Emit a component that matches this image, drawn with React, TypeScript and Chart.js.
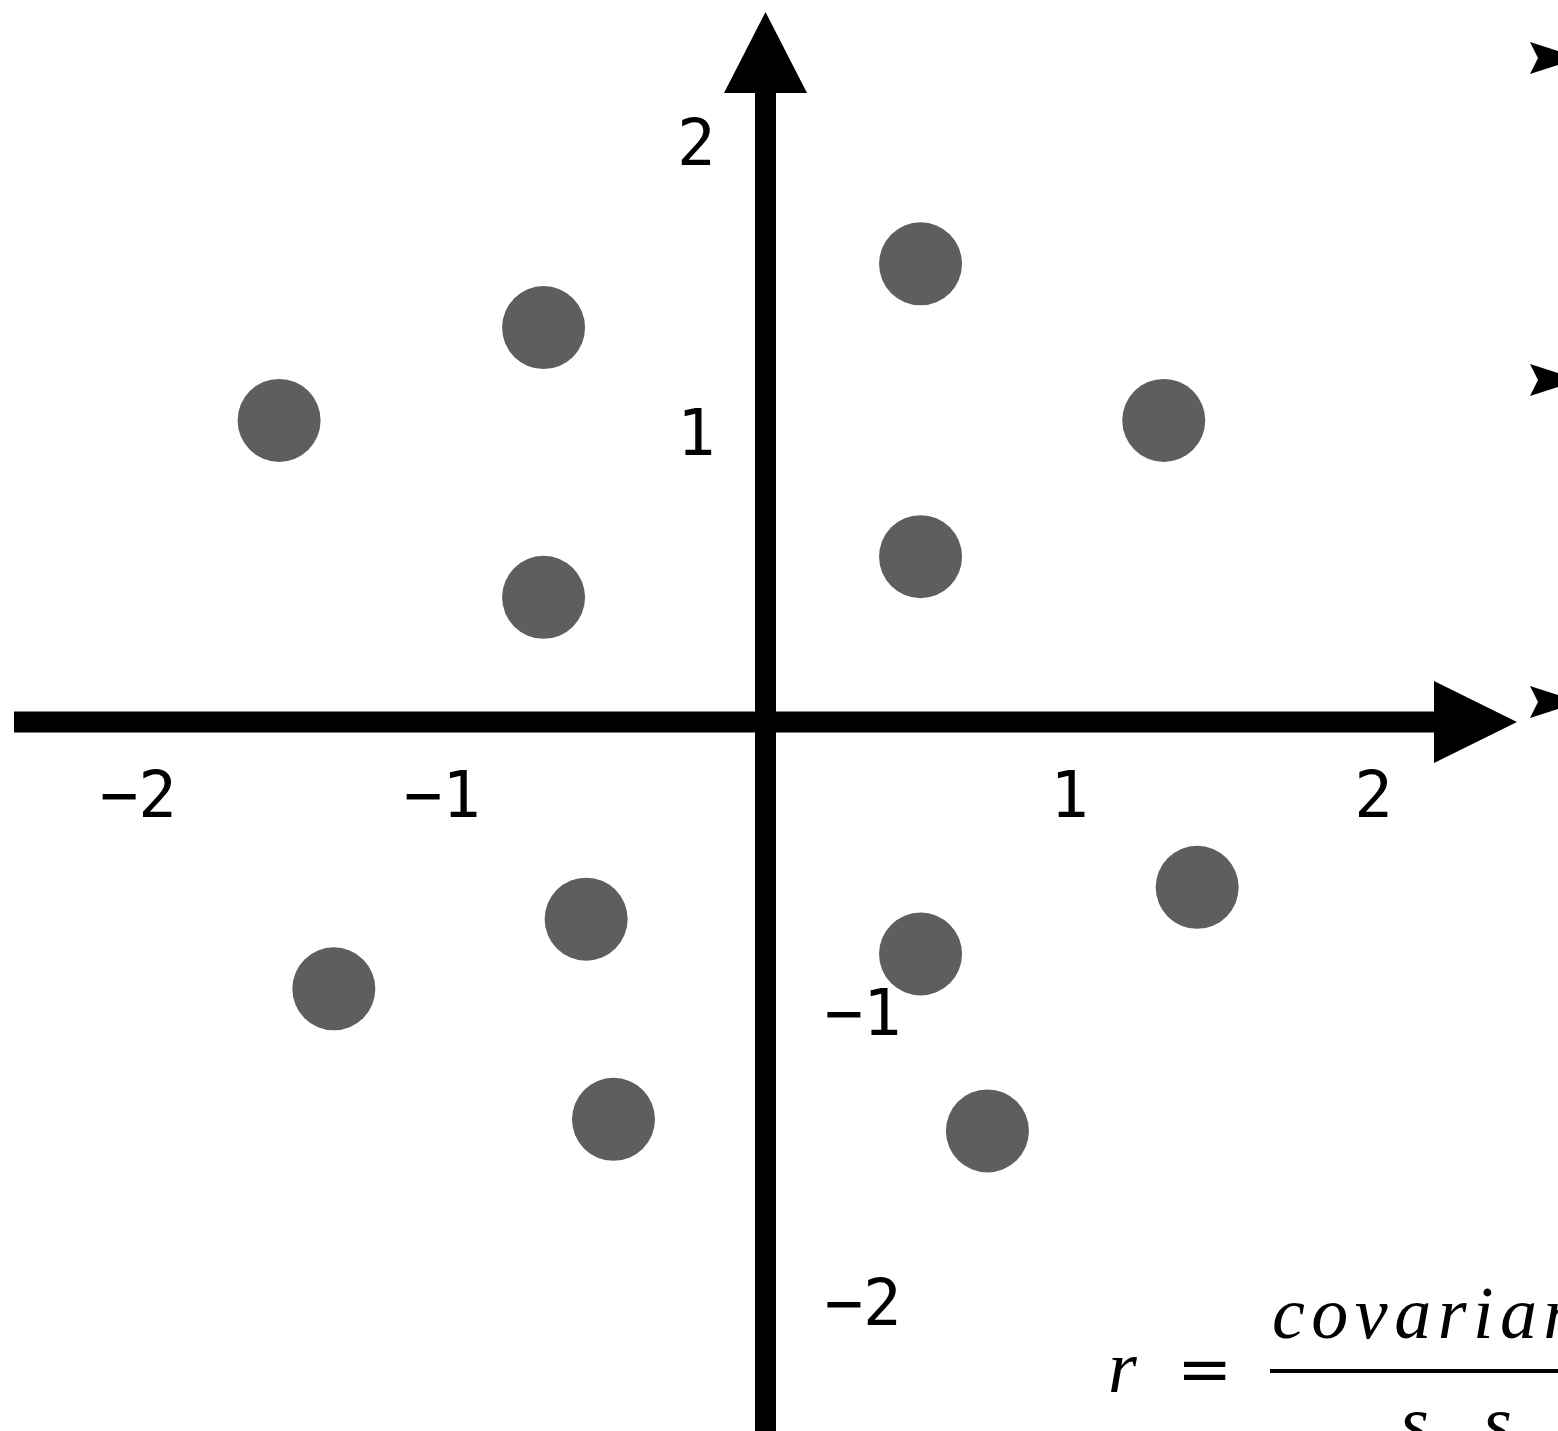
import { useEffect, useRef } from "react";
import { Chart, registerables } from "chart.js";

Chart.register(...registerables);

// Data
const xValues = [-1.6, -0.73, -0.73, 0.51, 1.31, 0.51, 1.42, 0.51, -0.59, -1.42, -0.5, 0.73];
const yValues = [1.04, 1.36, 0.43, 1.58, 1.04, 0.57, -0.57, -0.8, -0.68, -0.92, -1.37, -1.41];

const xTickValues = [-2, -1, 1, 2];
const xTickLabels = ["−2", "−1", "1", "2"];
const yTickValues = [2, 1, -1, -2];
const yTickLabels = ["2", "1", "−1", "−2"];

const W = 1558;
const H = 1431;

const MONO = '64px "DejaVu Sans Mono"';
const SERIF_I = 'italic 74px "Liberation Serif"';
const EQ_FONT = '66px "DejaVu Serif"';
const SUB_I = 'italic 48px "Liberation Serif"';

function setFont(ctx: any, f: string) {
  ctx.font = f;
  // read back so the font is resolved before drawing
  return ctx.font;
}

const axesPlugin = {
  id: "axesPlugin",
  beforeDatasetsDraw(chart: any) {
    const ctx = chart.ctx;
    const chartArea = chart.chartArea;
    const xs = chart.scales.x;
    const ys = chart.scales.y;
    const x0 = xs.getPixelForValue(0);
    const y0 = ys.getPixelForValue(0);
    ctx.save();
    ctx.fillStyle = "#000";
    // horizontal axis
    const hx1 = chartArea.left + 14;
    const hxBase = 1434;
    const hxTip = 1517;
    ctx.fillRect(hx1, y0 - 10.5, hxBase - hx1 + 1, 21);
    ctx.beginPath();
    ctx.moveTo(hxBase, y0 - 41);
    ctx.lineTo(hxTip, y0);
    ctx.lineTo(hxBase, y0 + 41);
    ctx.closePath();
    ctx.fill();
    // vertical axis
    const vyBase = 93;
    const vyTip = 12;
    ctx.fillRect(x0 - 10.5, vyBase - 1, 21, chartArea.bottom - vyBase + 2);
    ctx.beginPath();
    ctx.moveTo(x0 - 41.5, vyBase);
    ctx.lineTo(x0, vyTip);
    ctx.lineTo(x0 + 41.5, vyBase);
    ctx.closePath();
    ctx.fill();

    // tick labels
    setFont(ctx, MONO);
    ctx.textBaseline = "alphabetic";
    const cw = ctx.measureText("0").width;
    xTickValues.forEach((v, i) => {
      const px = xs.getPixelForValue(v);
      ctx.textAlign = "right";
      ctx.fillText(xTickLabels[i], px + cw / 2, y0 + 95);
    });
    yTickValues.forEach((v, i) => {
      const py = ys.getPixelForValue(v);
      if (v > 0) {
        ctx.textAlign = "right";
        ctx.fillText(yTickLabels[i], x0 - 50, py + 23);
      } else {
        ctx.textAlign = "left";
        ctx.fillText(yTickLabels[i], x0 + 59, py + 23);
      }
    });
    ctx.restore();
  },
  afterDraw(chart: any) {
    const ctx = chart.ctx;
    ctx.save();
    ctx.fillStyle = "#000";
    // cropped bullet arrows at right edge
    [58, 380, 702].forEach((cy) => {
      ctx.beginPath();
      ctx.moveTo(1530, cy - 16);
      ctx.lineTo(1580, cy);
      ctx.lineTo(1530, cy + 16);
      ctx.lineTo(1538, cy);
      ctx.closePath();
      ctx.fill();
    });
    // formula
    ctx.textBaseline = "alphabetic";
    ctx.textAlign = "left";
    setFont(ctx, SERIF_I);
    ctx.fillText("r", 1108, 1392);
    setFont(ctx, EQ_FONT);
    ctx.fillText("=", 1177, 1391);
    setFont(ctx, SERIF_I);
    let cx = 1272;
    for (const ch of "covariance") {
      ctx.fillText(ch, cx, 1338);
      cx += ctx.measureText(ch).width + 6.5;
    }
    ctx.fillRect(1270, 1369, 300, 4);
    ctx.fillText("s", 1400, 1447);
    ctx.fillText("s", 1483, 1447);
    setFont(ctx, SUB_I);
    ctx.fillText("x", 1430, 1462);
    ctx.fillText("y", 1513, 1462);
    ctx.restore();
  },
};

export default function App() {
  const ref = useRef<HTMLCanvasElement | null>(null);
  useEffect(() => {
    if (!ref.current) return;
    const points = xValues.map((x, i) => ({ x, y: yValues[i] }));
    const x0px = 765.5;
    const xUnit = 304;
    const y0px = 722;
    const yUnit = 290;
    const chart = new Chart(ref.current, {
      type: "scatter",
      data: {
        datasets: [
          {
            data: points,
            backgroundColor: "#5e5e5e",
            borderWidth: 0,
            pointRadius: 41.5,
            pointHoverRadius: 41.5,
          },
        ],
      },
      options: {
        responsive: false,
        animation: false,
        events: [],
        layout: { padding: 0, autoPadding: false } as any,
        plugins: { legend: { display: false }, tooltip: { enabled: false } },
        scales: {
          x: {
            type: "linear",
            display: false,
            min: -x0px / xUnit,
            max: (W - x0px) / xUnit,
          },
          y: {
            type: "linear",
            display: false,
            min: -(H - y0px) / yUnit,
            max: y0px / yUnit,
          },
        },
      },
      plugins: [axesPlugin],
    });
    let alive = true;
    const redraw = () => {
      if (alive) chart.draw();
    };
    const fontSet = (document as any).fonts;
    if (fontSet) {
      Promise.all([MONO, SERIF_I, EQ_FONT, SUB_I].map((f) => fontSet.load(f).catch(() => null)))
        .then(() => fontSet.ready)
        .then(redraw, redraw);
    }
    const t = setTimeout(redraw, 60);
    return () => {
      alive = false;
      clearTimeout(t);
      chart.destroy();
    };
  }, []);
  return (
    <div style={{ position: "absolute", left: 0, top: 0, width: W, height: H, background: "#fff" }}>
      <canvas ref={ref} width={W} height={H} style={{ width: W, height: H, display: "block" }} />
    </div>
  );
}
